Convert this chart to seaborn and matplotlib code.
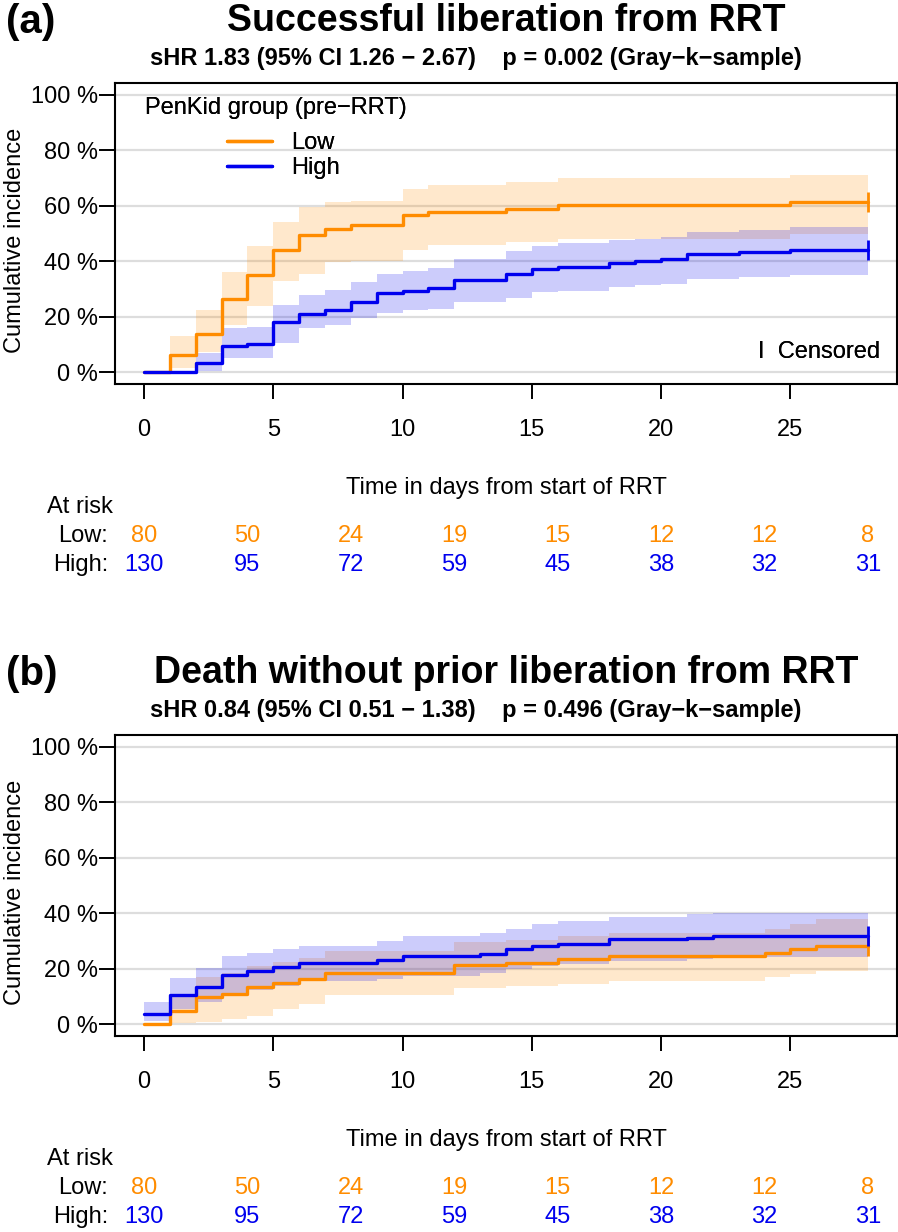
import numpy as np
import pandas as pd
import matplotlib
matplotlib.use("Agg")
import matplotlib.pyplot as plt
import matplotlib.transforms as mtransforms
import seaborn as sns

# ---- data ----
days = list(range(29))

# (a) successful liberation from RRT, cumulative incidence in %
lib_low = [0, 6.4, 14.0, 26.6, 35.2, 43.9, 49.3, 51.7, 52.9, 52.9, 56.5, 57.7, 57.7, 57.7,
           58.9, 58.9, 60.1, 60.1, 60.1, 60.1, 60.1, 60.1, 60.1, 60.1, 60.1, 61.2, 61.2, 61.2, 61.2]
lib_low_lo = [0, 1.5, 7.5, 17.0, 24.0, 32.8, 35.5, 39.6, 40.0, 40.0, 44.2, 46.0, 46.0, 46.0,
              47.0, 47.0, 48.0, 48.0, 48.0, 48.0, 48.0, 48.0, 48.0, 48.0, 48.0, 50.0, 50.0, 50.0, 50.0]
lib_low_hi = [0, 13.0, 22.4, 36.1, 45.4, 54.0, 59.4, 61.5, 61.8, 61.8, 66.0, 67.5, 67.5, 67.5,
              68.7, 68.7, 70.0, 70.0, 70.0, 70.0, 70.0, 70.0, 70.0, 70.0, 70.0, 71.0, 71.0, 71.0, 71.0]
lib_high = [0, 0, 3.5, 9.5, 10.3, 18.1, 21.1, 22.4, 25.2, 28.6, 29.4, 30.4, 33.4, 33.4,
            35.4, 37.2, 37.9, 37.9, 39.4, 40.2, 40.9, 42.6, 42.6, 43.2, 43.2, 44.2, 44.2, 44.2, 44.2]
lib_high_lo = [0, 0, 0.5, 5.3, 5.3, 10.7, 16.0, 17.0, 19.5, 21.5, 22.3, 23.0, 25.4, 25.4,
               26.8, 28.8, 29.2, 29.2, 30.8, 31.5, 32.0, 33.6, 33.6, 34.4, 34.4, 35.2, 35.2, 35.2, 35.2]
lib_high_hi = [0, 0, 7.1, 16.0, 16.3, 24.4, 28.0, 29.8, 32.4, 35.5, 36.5, 37.5, 41.0, 41.0,
               43.6, 45.4, 46.6, 46.6, 47.8, 48.2, 48.9, 50.7, 50.7, 51.3, 51.3, 52.5, 52.5, 52.5, 52.5]

# (b) death without prior liberation from RRT
dth_low = [0, 4.8, 9.8, 11.1, 13.5, 15.0, 16.2, 18.6, 18.6, 18.6, 18.6, 18.6, 21.3, 21.3,
           22.1, 22.1, 23.6, 23.6, 24.6, 24.6, 24.6, 24.6, 24.6, 24.6, 25.8, 27.2, 28.4, 28.4, 28.4]
dth_low_lo = [0, 0.5, 1.0, 2.0, 3.0, 5.5, 7.5, 10.5, 10.5, 10.5, 10.5, 10.5, 13.2, 13.2,
              13.8, 13.8, 14.6, 14.6, 15.8, 15.8, 15.8, 15.8, 15.8, 15.8, 17.0, 18.0, 19.2, 19.2, 19.2]
dth_low_hi = [0, 10.5, 17.0, 18.5, 21.0, 22.5, 24.0, 26.5, 26.5, 26.5, 26.5, 26.5, 29.5, 29.5,
              30.5, 30.5, 32.0, 32.0, 33.0, 33.0, 33.0, 33.0, 33.0, 33.0, 34.5, 36.0, 37.8, 37.8, 37.8]
dth_high = [3.6, 10.5, 13.5, 17.7, 19.2, 20.7, 22.2, 22.2, 22.2, 23.1, 24.6, 24.6, 24.6, 25.5,
            27.0, 28.4, 29.0, 29.0, 30.6, 30.6, 30.6, 31.2, 32.0, 32.0, 32.0, 32.0, 32.0, 32.0, 32.0]
dth_high_lo = [1.2, 5.5, 8.2, 11.0, 12.5, 14.0, 15.5, 15.5, 15.5, 16.3, 17.5, 17.5, 17.5, 18.5,
               19.8, 21.0, 21.6, 21.6, 23.0, 23.0, 23.0, 23.5, 24.2, 24.2, 24.2, 24.2, 24.2, 24.2, 24.2]
dth_high_hi = [8.0, 16.8, 20.4, 24.6, 25.8, 27.0, 28.2, 28.2, 28.2, 30.0, 31.8, 31.8, 31.8, 32.8,
               34.4, 36.0, 37.2, 37.2, 38.6, 38.6, 38.6, 39.6, 40.2, 40.2, 40.2, 40.2, 40.2, 40.2, 40.2]

risk_days = [0, 4, 8, 12, 16, 20, 24, 28]
risk_low = [80, 50, 24, 19, 15, 12, 12, 8]
risk_high = [130, 95, 72, 59, 45, 38, 32, 31]

titles = ["Successful liberation from RRT", "Death without prior liberation from RRT"]
subtitles = ["sHR 1.83 (95% CI 1.26 \u2212 2.67)    p = 0.002 (Gray\u2212k\u2212sample)",
             "sHR 0.84 (95% CI 0.51 \u2212 1.38)    p = 0.496 (Gray\u2212k\u2212sample)"]
tags = ["(a)", "(b)"]

ORANGE = "#FF8C00"
BLUE = "#0000EE"
W, H = 898, 1232
FS = 17

sns.set_style("white")
plt.rcParams["font.family"] = ["Liberation Sans", "DejaVu Sans"]
plt.rcParams["text.color"] = "black"
plt.rcParams["xtick.color"] = "black"
plt.rcParams["ytick.color"] = "black"
plt.rcParams["axes.labelcolor"] = "black"

fig = plt.figure(figsize=(W / 100, H / 100), dpi=100)


def fx(px):
    return px / W


def fy(py):
    return 1 - py / H


def draw_panel(k, off, low, low_lo, low_hi, high, high_lo, high_hi):
    top = 83 + off
    ax = fig.add_axes([fx(115), fy(top + 301), fx(782), 301 / H])

    def axc(px, py):
        return (px - 115) / 782, (top + 301 - py) / 301

    ax.fill_between(days, low_lo, low_hi, step="post", color=ORANGE, alpha=0.2, lw=0, zorder=1)
    ax.fill_between(days, high_lo, high_hi, step="post", color=BLUE, alpha=0.2, lw=0, zorder=1)

    df = pd.DataFrame({"day": days * 2, "ci": low + high,
                       "group": ["Low"] * len(days) + ["High"] * len(days)})
    sns.lineplot(data=df, x="day", y="ci", hue="group", hue_order=["Low", "High"],
                 palette={"Low": ORANGE, "High": BLUE}, estimator=None,
                 drawstyle="steps-post", lw=2.4, ax=ax, zorder=3)
    # censoring marks at end of follow-up
    ax.plot([days[-1]], [low[-1]], marker="|", ms=14, mew=2, color=ORANGE, zorder=4)
    ax.plot([days[-1]], [high[-1]], marker="|", ms=14, mew=2, color=BLUE, zorder=4)

    ax.set_xlim(-1.12, 29.12)
    ax.set_ylim(-4.16, 104.16)
    ax.set_xticks([0, 5, 10, 15, 20, 25])
    ax.set_yticks([0, 20, 40, 60, 80, 100])
    ax.set_yticklabels([f"{v} %" for v in [0, 20, 40, 60, 80, 100]])
    ax.yaxis.grid(True, color="#dddddd", lw=1.6)
    ax.set_axisbelow(True)
    ax.tick_params(axis="x", length=11, width=1.4, pad=14, labelsize=FS, direction="out")
    ax.tick_params(axis="y", length=11.5, width=1.4, pad=1, labelsize=FS, direction="out")
    ax.tick_params(bottom=True, left=True)
    ax.set_xlabel("")
    ax.set_ylabel("")
    for s in ax.spines.values():
        s.set_color("black")
        s.set_linewidth(1.5)

    handles, labels = ax.get_legend_handles_labels()
    ax.legend(handles[:2], labels[:2], loc="upper left", bbox_to_anchor=axc(227, 132),
              frameon=False, fontsize=FS, handlelength=1.9, handletextpad=0.8,
              labelspacing=0.12, borderpad=0, borderaxespad=0)
    ax.text(*axc(145, 108), "PenKid group (pre\u2212RRT)", transform=ax.transAxes,
            ha="left", va="center", fontsize=FS)
    ax.text(*axc(880, 352), "I  Censored", transform=ax.transAxes,
            ha="right", va="center", fontsize=FS)

    # titles
    fig.text(fx(6), fy(22 + off), tags[k], ha="left", va="center", fontsize=29, fontweight="bold")
    fig.text(fx(506), fy(21 + off), titles[k], ha="center", va="center", fontsize=27, fontweight="bold")
    fig.text(fx(476), fy(59 + off), subtitles[k], ha="center", va="center", fontsize=FS, fontweight="bold")
    fig.text(fx(15), fy(240 + off), "Cumulative incidence", rotation=90, ha="center", va="center", fontsize=FS)
    fig.text(fx(506), fy(488 + off), "Time in days from start of RRT", ha="center", va="center", fontsize=FS)

    # number at risk
    tr = mtransforms.blended_transform_factory(ax.transData, fig.transFigure)
    fig.text(fx(47), fy(507 + off), "At risk", ha="left", va="center", fontsize=FS)
    fig.text(fx(108), fy(536 + off), "Low:", ha="right", va="center", fontsize=FS)
    fig.text(fx(108), fy(565 + off), "High:", ha="right", va="center", fontsize=FS)
    for d, nl, nh in zip(risk_days, risk_low, risk_high):
        ax.text(d, fy(536 + off), str(nl), transform=tr, ha="center", va="center",
                fontsize=FS, color=ORANGE, clip_on=False)
        ax.text(d, fy(565 + off), str(nh), transform=tr, ha="center", va="center",
                fontsize=FS, color=BLUE, clip_on=False)


draw_panel(0, 0, lib_low, lib_low_lo, lib_low_hi, lib_high, lib_high_lo, lib_high_hi)
draw_panel(1, 652, dth_low, dth_low_lo, dth_low_hi, dth_high, dth_high_lo, dth_high_hi)

fig.savefig("out.png", dpi=100)
